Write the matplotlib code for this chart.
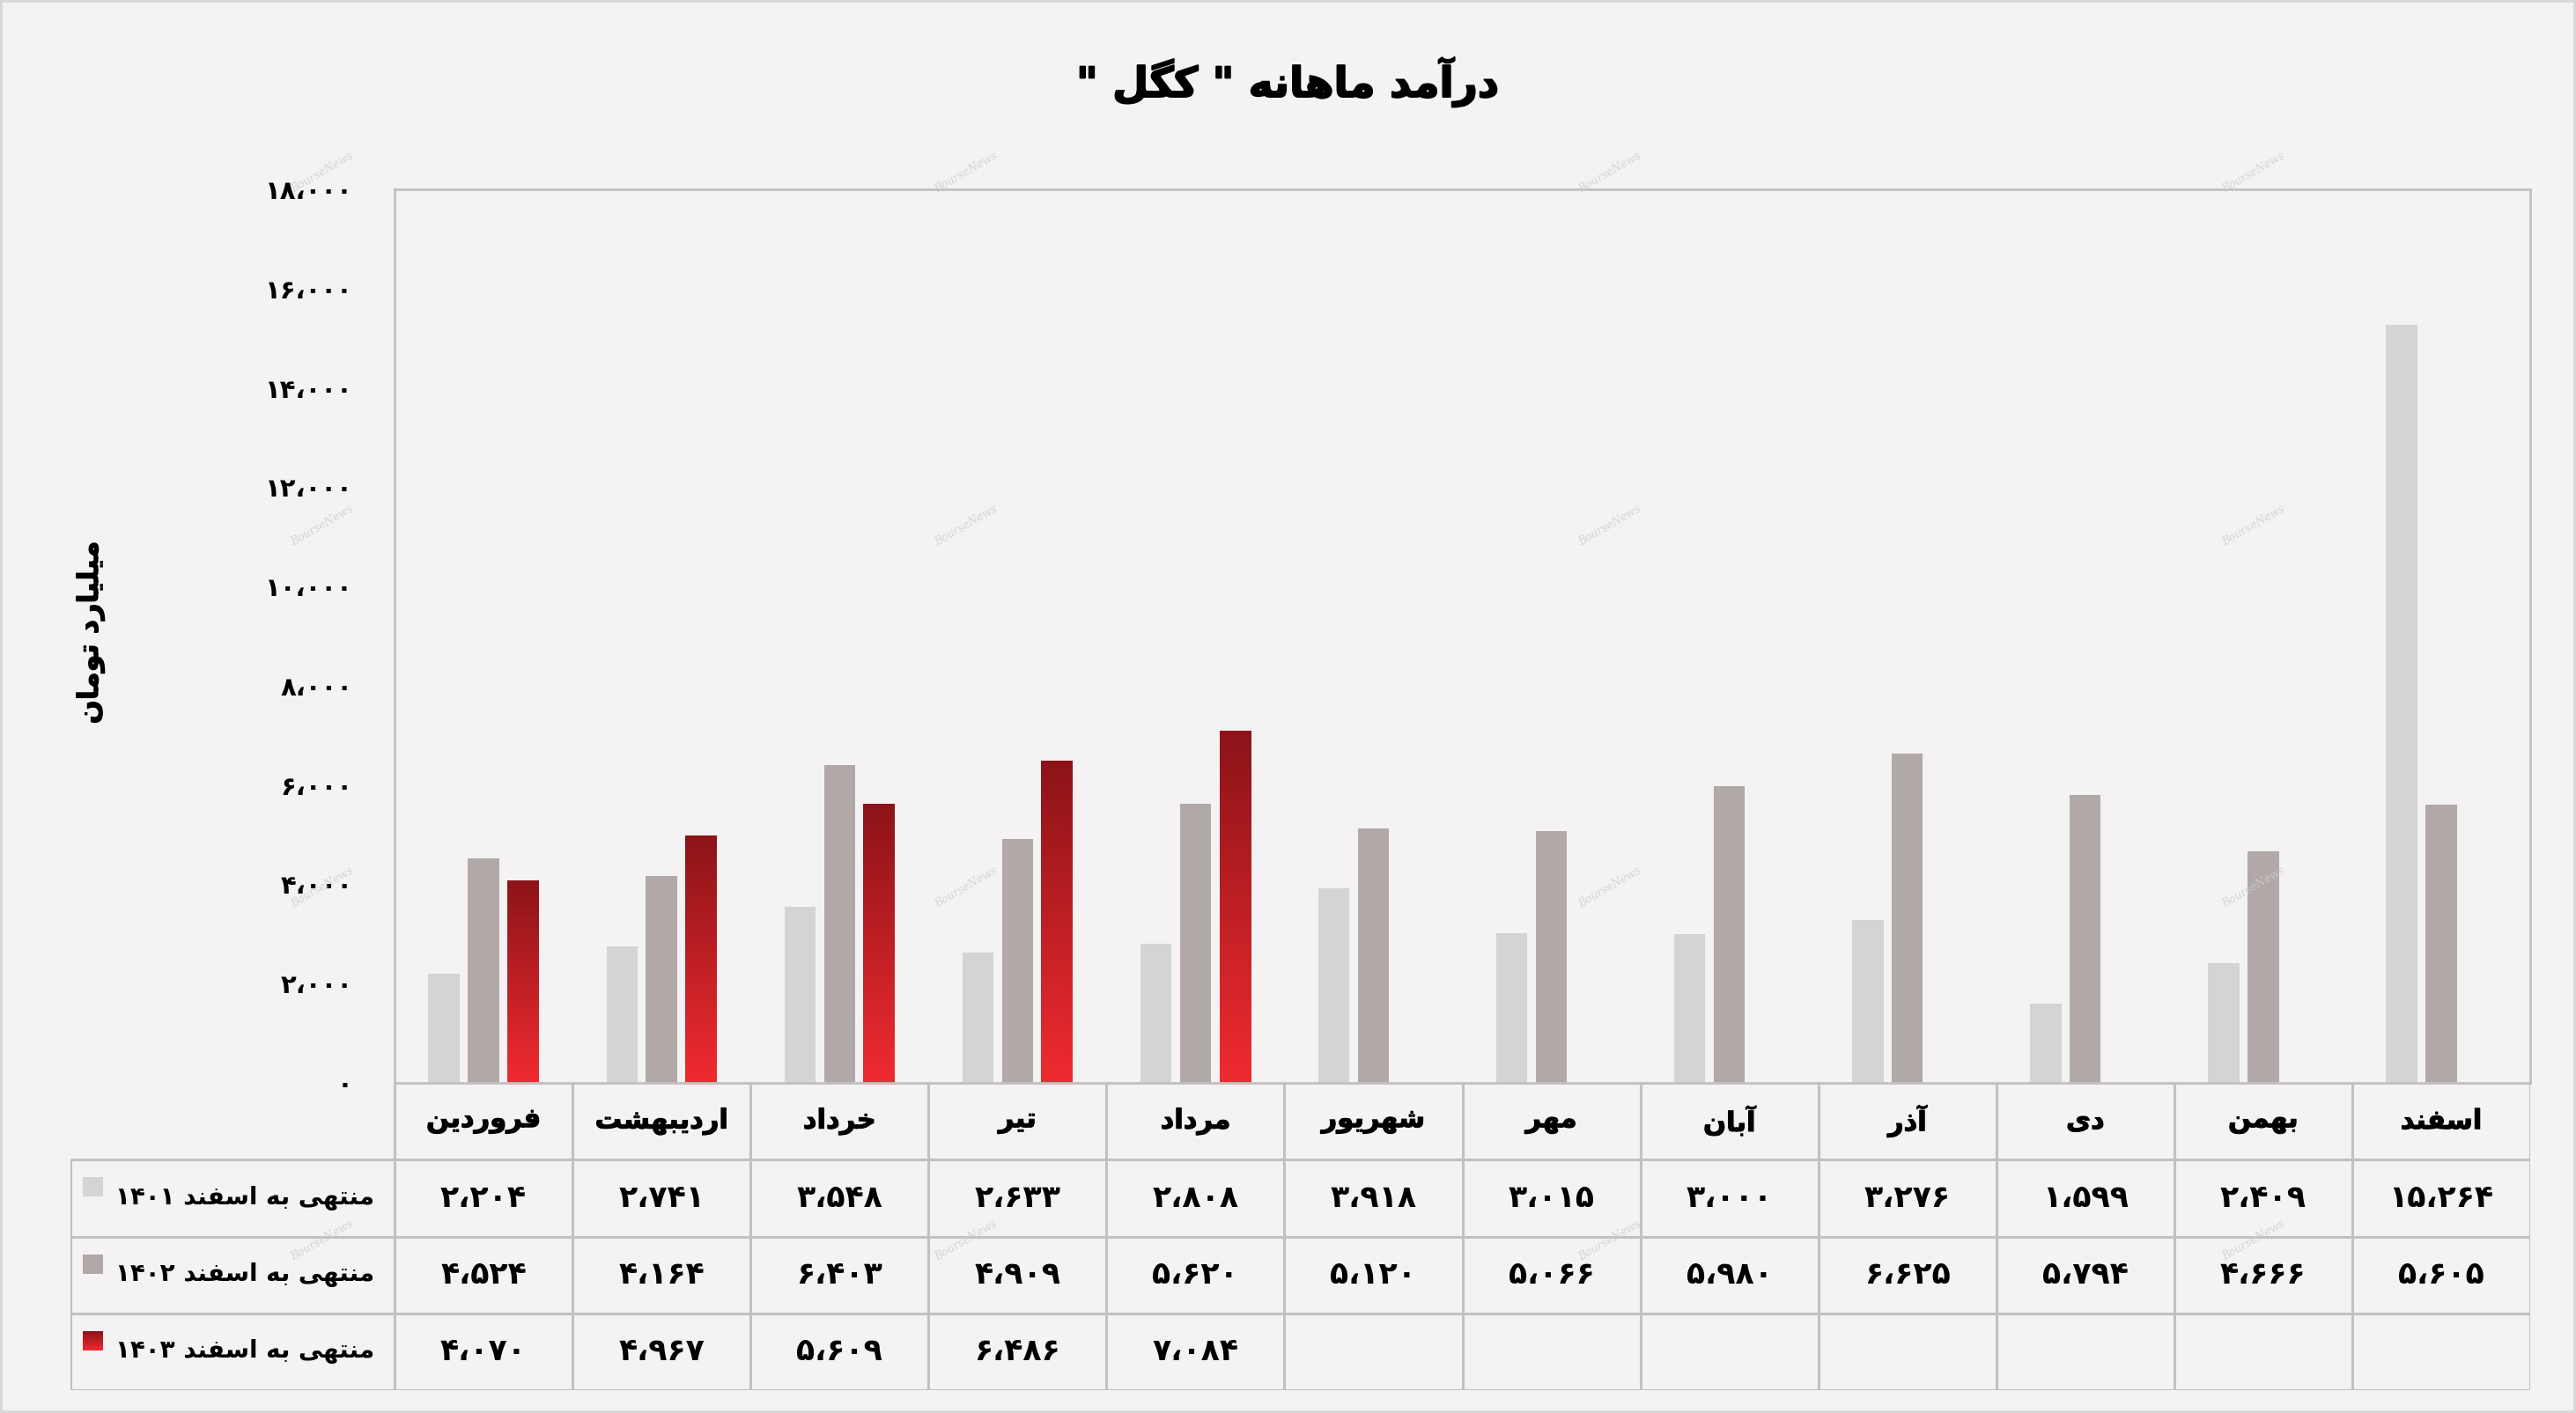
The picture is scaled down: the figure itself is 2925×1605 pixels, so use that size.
import numpy as np
import matplotlib
matplotlib.use("Agg")
import matplotlib.pyplot as plt
import matplotlib.patheffects as pe
from matplotlib.patches import Rectangle
from matplotlib.colors import LinearSegmentedColormap

# ── data ──────────────────────────────────────────────────────────────────
months = ["فروردین", "اردیبهشت", "خرداد", "تیر", "مرداد", "شهریور",
          "مهر", "آبان", "آذر", "دی", "بهمن", "اسفند"]
rev_1401 = [2204, 2741, 3548, 2633, 2808, 3918, 3015, 3000, 3276, 1599, 2409, 15264]
rev_1402 = [4524, 4164, 6403, 4909, 5620, 5120, 5066, 5980, 6625, 5794, 4666, 5605]
rev_1403 = [4070, 4967, 5609, 6486, 7084]
series_names = ["منتهی به اسفند ۱۴۰۱", "منتهی به اسفند ۱۴۰۲", "منتهی به اسفند ۱۴۰۳"]
title = 'درآمد ماهانه " کگل "'
ylabel = "میلیارد تومان"
yticks = list(range(0, 18001, 2000))

BG = "#f4f2f3"
GRID = "#c2c0c0"
C1401 = "#d4d4d4"
C1402 = "#b1a8a8"
red_cmap = LinearSegmentedColormap.from_list("red", ["#8c1418", "#f02b31"])

# ── minimal Persian shaping (matplotlib has no complex text layout) ────────
# isolated, final, initial, medial ; None = letter does not join forward
FORMS = {
    "ا": ("\uFE8D", "\uFE8E", None, None),
    "آ": ("\uFE81", "\uFE82", None, None),
    "ب": ("\uFE8F", "\uFE90", "\uFE91", "\uFE92"),
    "ت": ("\uFE95", "\uFE96", "\uFE97", "\uFE98"),
    "خ": ("\uFEA5", "\uFEA6", "\uFEA7", "\uFEA8"),
    "د": ("\uFEA9", "\uFEAA", None, None),
    "ذ": ("\uFEAB", "\uFEAC", None, None),
    "ر": ("\uFEAD", "\uFEAE", None, None),
    "س": ("\uFEB1", "\uFEB2", "\uFEB3", "\uFEB4"),
    "ش": ("\uFEB5", "\uFEB6", "\uFEB7", "\uFEB8"),
    "ف": ("\uFED1", "\uFED2", "\uFED3", "\uFED4"),
    "ل": ("\uFEDD", "\uFEDE", "\uFEDF", "\uFEE0"),
    "م": ("\uFEE1", "\uFEE2", "\uFEE3", "\uFEE4"),
    "ن": ("\uFEE5", "\uFEE6", "\uFEE7", "\uFEE8"),
    "ه": ("\uFEE9", "\uFEEA", "\uFEEB", "\uFEEC"),
    "و": ("\uFEED", "\uFEEE", None, None),
    "ی": ("\uFBFC", "\uFBFD", "\uFBFE", "\uFBFF"),
    "ک": ("\uFB8E", "\uFB8F", "\uFB90", "\uFB91"),
    "گ": ("\uFB92", "\uFB93", "\uFB94", "\uFB95"),
}


def shape_word(w):
    out = []
    for i, ch in enumerate(w):
        f = FORMS.get(ch)
        if f is None:
            out.append(ch)
            continue
        prev = FORMS.get(w[i - 1]) if i > 0 else None
        nxt = FORMS.get(w[i + 1]) if i + 1 < len(w) else None
        join_prev = prev is not None and prev[2] is not None
        join_next = f[2] is not None and nxt is not None
        if join_prev and join_next:
            out.append(f[3])
        elif join_prev:
            out.append(f[1])
        elif join_next:
            out.append(f[2])
        else:
            out.append(f[0])
    return "".join(out)


def rtl(text):
    vis = []
    for w in reversed(text.split(" ")):
        if any(ch in FORMS for ch in w):
            vis.append(shape_word(w)[::-1])
        else:
            vis.append(w)
    return " ".join(vis)


FA_DIGITS = str.maketrans("0123456789,", "۰۱۲۳۴۵۶۷۸۹،")


def fa_num(v):
    return f"{v:,}".translate(FA_DIGITS)


plt.rcParams["font.family"] = ["DejaVu Sans"]
plt.rcParams["font.weight"] = "bold"

# slightly heavier strokes for the Persian words (digits stay plain, they clog up)
heavy = [pe.withStroke(linewidth=0.8, foreground="black")]

# ── figure / layout (pixel geometry of the 2925x1605 reference) ───────────
W, H = 2925, 1605
fig = plt.figure(figsize=(W / 100, H / 100), dpi=100, facecolor=BG)

px_left, px_right, px_top, px_base, px_bottom, px_leg = 448, 2873, 215, 1230, 1579, 80
ax = fig.add_axes([px_left / W, 1 - px_base / H, (px_right - px_left) / W, (px_base - px_top) / H])
ax.set_facecolor(BG)

n = len(months)
x = np.arange(n)
bw, off = 0.175, 0.222

ax.bar(x - off, rev_1401, bw, color=C1401, zorder=2)
ax.bar(x, rev_1402, bw, color=C1402, zorder=2)
bars3 = ax.bar(np.arange(len(rev_1403)) + off, rev_1403, bw, color="none", zorder=2)

grad = np.linspace(0, 1, 256)[:, None]
for r in bars3:
    x0, y0 = r.get_x(), r.get_y()
    ax.imshow(grad, cmap=red_cmap, aspect="auto", origin="upper",
              extent=(x0, x0 + r.get_width(), y0, y0 + r.get_height()), zorder=2)

ax.set_xlim(-0.5, n - 0.5)
ax.set_ylim(0, 18000)
ax.set_xticks([])
ax.set_yticks(yticks)
ax.set_yticklabels([fa_num(v) for v in yticks], fontsize=21, fontweight="bold")
ax.tick_params(axis="y", length=0, pad=34)
for s in ax.spines.values():
    s.set_color(GRID)
    s.set_linewidth(2)

# ── data table under the bars ─────────────────────────────────────────────
col_px = (px_right - px_left) / n
leg_w = (px_left - px_leg) / col_px
tax = fig.add_axes([px_leg / W, 1 - px_bottom / H, (px_right - px_leg) / W, (px_bottom - px_base) / H])
tax.set_facecolor("none")
tax.axis("off")
xl = -0.5 - leg_w
tax.set_xlim(xl, n - 0.5)
tax.set_ylim(4, 0)

lw = 2.2
for k in range(n + 1):
    tax.plot([k - 0.5, k - 0.5], [0, 4], color=GRID, lw=lw, solid_capstyle="butt")
tax.plot([xl, xl], [1, 4], color=GRID, lw=lw, solid_capstyle="butt")
tax.plot([-0.5, n - 0.5], [0, 0], color=GRID, lw=lw)
for rrow in (1, 2, 3, 4):
    tax.plot([xl, n - 0.5], [rrow, rrow], color=GRID, lw=lw, solid_capstyle="butt")

for i, m in enumerate(months):
    tax.text(i, 0.5, rtl(m), ha="center", va="center", fontsize=22, fontweight="bold",
             path_effects=heavy)

rows = [rev_1401, rev_1402, rev_1403]
for j, vals in enumerate(rows):
    for i, v in enumerate(vals):
        tax.text(i, j + 1.5, fa_num(v), ha="center", va="center", fontsize=25,
                 fontweight="bold")

sq_w, sq_h = 23 / col_px, 22 / ((px_bottom - px_base) / 4)
sq_x = xl + 14 / col_px
txt_x = xl + 51 / col_px
for j, name in enumerate(series_names):
    y0 = j + 1 + 0.23
    if j < 2:
        tax.add_patch(Rectangle((sq_x, y0), sq_w, sq_h, color=[C1401, C1402][j], lw=0))
    else:
        tax.imshow(grad, cmap=red_cmap, aspect="auto", origin="upper",
                   extent=(sq_x, sq_x + sq_w, y0 + sq_h, y0))
    tax.text(txt_x, j + 1.5, rtl(name), ha="left", va="center", fontsize=20,
             fontweight="bold")
tax.set_xlim(xl, n - 0.5)
tax.set_ylim(4, 0)

# ── titles ────────────────────────────────────────────────────────────────
fig.text(0.5, 1 - 93 / H, rtl(title), ha="center", va="center", fontsize=34,
         fontweight="bold", path_effects=[pe.withStroke(linewidth=1.4, foreground="black")])
fig.text(103 / W, 1 - 718 / H, rtl(ylabel), ha="center", va="center", rotation=90,
         fontsize=23, fontweight="bold", path_effects=heavy)

# faint watermark grid
for fx in (0.125, 0.375, 0.625, 0.875):
    for fy in (0.878, 0.628, 0.372, 0.122):
        fig.text(fx, fy, "BourseNews", ha="center", va="center", rotation=30,
                 fontsize=9, color="#cfcfcf", family="DejaVu Serif", style="italic",
                 fontweight="normal", alpha=0.8, zorder=0)

fig.patches.append(Rectangle((0, 0), 1, 1, transform=fig.transFigure, fill=False,
                             edgecolor="#d8d8d8", lw=4))

fig.savefig("out.png", dpi=100, facecolor=BG)
